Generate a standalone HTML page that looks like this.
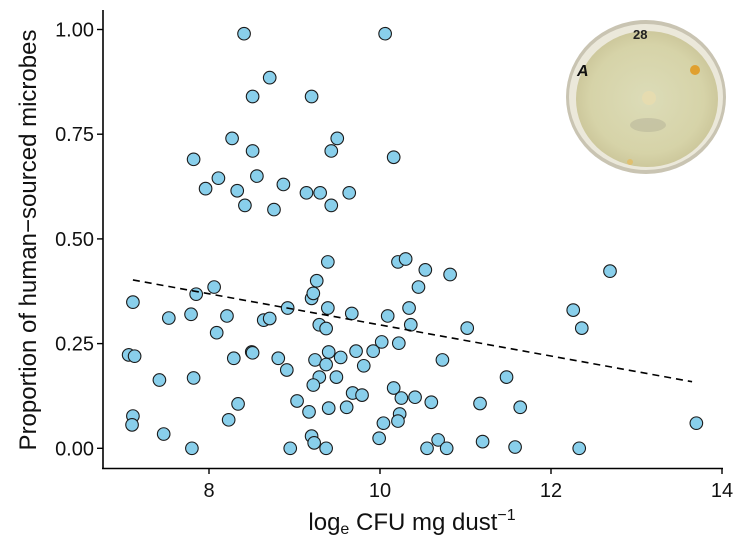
<!DOCTYPE html>
<html><head><meta charset="utf-8"><style>
body{margin:0;background:#fff;font-family:"Liberation Sans",sans-serif}
svg{display:block}
</style></head><body>
<svg id="chart" width="741" height="547">
<g id="dish">
<defs><radialGradient id="dg" cx="50%" cy="50%" r="50%"><stop offset="0" stop-color="#dcdcb8"/><stop offset="0.8" stop-color="#d6d3a8"/><stop offset="1" stop-color="#cdc89c"/></radialGradient></defs>
<ellipse cx="646" cy="97" rx="80" ry="77" fill="#c9c4b2"/>
<ellipse cx="646" cy="97" rx="77" ry="73" fill="#ebe8da"/>
<ellipse cx="647" cy="99" rx="71" ry="68" fill="url(#dg)"/>
<ellipse cx="648" cy="125" rx="18" ry="7" fill="#a9a890" opacity="0.4"/>
<circle cx="695" cy="70" r="5" fill="#e0a030"/>
<circle cx="649" cy="98" r="7" fill="#e6dcb0"/>
<circle cx="630" cy="162" r="3" fill="#e0c070"/>
<text x="633" y="39" font-size="13" font-weight="bold" fill="#222">28</text>
<text x="577" y="76" font-size="16" font-weight="bold" fill="#111" font-style="italic">A</text>
</g>
<g id="axes"></g>
<g id="marks"></g>
<text x="412" y="530" font-size="24" text-anchor="middle" fill="#111">log<tspan font-size="16" dy="4">e</tspan><tspan dy="-4"> CFU mg dust</tspan><tspan font-size="16" dy="-10">−1</tspan></text>
<text transform="translate(36,240) rotate(-90)" font-size="24" text-anchor="middle" fill="#111">Proportion of human−sourced microbes</text>
</svg>
<script>
const xVals=[8.41,10.06,8.71,8.51,9.20,8.27,9.50,8.51,9.43,7.82,10.16,8.56,8.11,8.87,7.96,8.33,9.14,9.30,9.64,8.42,8.76,9.43,
7.11,7.53,7.79,7.85,8.06,8.09,8.21,8.64,8.71,8.92,9.20,9.22,9.26,9.39,9.39,9.29,9.37,9.67,10.09,10.21,10.30,10.34,10.36,10.02,10.22,
7.06,7.13,7.42,7.82,8.29,8.50,8.51,8.81,8.91,9.24,9.37,9.40,9.54,9.72,9.81,9.92,9.29,9.22,9.49,9.68,9.79,10.16,10.25,10.41,
9.03,9.17,9.40,9.61,10.23,10.21,10.04,9.99,7.11,7.10,7.47,8.23,8.34,7.80,8.95,9.20,9.23,9.37,
10.53,10.82,10.45,12.69,12.26,12.36,11.02,10.73,11.48,10.60,11.17,11.64,13.70,10.55,10.68,10.78,11.20,11.58,12.33];
const yVals=[0.99,0.99,0.885,0.84,0.84,0.74,0.74,0.71,0.71,0.69,0.695,0.65,0.645,0.63,0.62,0.615,0.61,0.61,0.61,0.58,0.57,0.58,
0.349,0.311,0.32,0.368,0.385,0.276,0.316,0.306,0.31,0.335,0.358,0.37,0.40,0.445,0.335,0.295,0.286,0.322,0.316,0.445,0.452,0.335,0.295,0.254,0.251,
0.223,0.22,0.163,0.168,0.215,0.23,0.228,0.215,0.187,0.211,0.2,0.23,0.217,0.232,0.197,0.232,0.17,0.151,0.17,0.132,0.127,0.144,0.12,0.122,
0.113,0.087,0.096,0.098,0.082,0.065,0.06,0.024,0.077,0.056,0.034,0.068,0.106,0.0,0.0,0.029,0.013,0.0,
0.426,0.415,0.385,0.423,0.33,0.287,0.287,0.211,0.17,0.11,0.107,0.098,0.06,0.0,0.02,0.0,0.016,0.003,0.0];
const trendX=[7.11,13.65];
const trendY=[0.402,0.159];
const xTicks=[8,10,12,14];
const yTicks=[0,0.25,0.5,0.75,1];
const yTickLabels=["0.00","0.25","0.50","0.75","1.00"];
const X=v=>209+(v-8)*85.5;
const Y=v=>448.3-v*418.8;
const NS="http://www.w3.org/2000/svg";
const ax=document.getElementById('axes'),mk=document.getElementById('marks');
function el(t,a,p){const e=document.createElementNS(NS,t);for(const k in a)e.setAttribute(k,a[k]);p.appendChild(e);return e;}
const yl=el('line',{x1:103,y1:10,x2:103,y2:469,stroke:'#000','stroke-width':1.6},ax);


const xl=el('line',{x1:102,y1:468.5,x2:723,y2:468.5,stroke:'#000','stroke-width':1.6},ax);


xTicks.forEach(t=>{
 el('line',{x1:X(t),y1:468,x2:X(t),y2:474,stroke:'#000','stroke-width':1.4},ax);
 const tx=el('text',{x:X(t),y:497,'font-size':20,'text-anchor':'middle',fill:'#111'},ax);
 tx.textContent=t;
 
 
});
yTicks.forEach((t,i)=>{
 el('line',{x1:97,y1:Y(t),x2:103,y2:Y(t),stroke:'#000','stroke-width':1.4},ax);
 const tx=el('text',{x:94,y:Y(t)+7,'font-size':20,'text-anchor':'end',fill:'#111'},ax);
 tx.textContent=yTickLabels[i];
 
 
});
xVals.forEach((x,i)=>{
 const c=el('circle',{cx:X(x),cy:Y(yVals[i]),r:6.3,fill:'#89cfeb',stroke:'#1a1a1a','stroke-width':1.1},mk);
 
 
});
const tl=el('line',{x1:X(trendX[0]),y1:Y(trendY[0]),x2:X(trendX[1]),y2:Y(trendY[1]),stroke:'#000','stroke-width':1.6,'stroke-dasharray':'7,5'},mk);


</script>
</body></html>
